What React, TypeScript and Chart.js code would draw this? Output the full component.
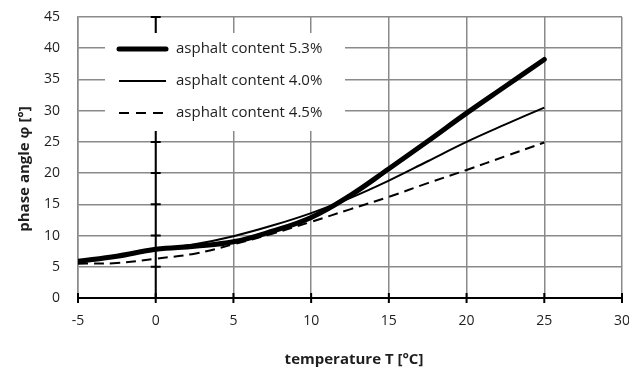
import React, { useEffect, useRef } from "react";
import { Chart, registerables } from "chart.js";

Chart.register(...registerables);

// Temperature samples [°C]
const temperatures = [-5, -2.5, 0, 2.5, 5, 7.5, 10, 12.5, 15, 17.5, 20, 22.5, 25];

// Phase angle φ [°] for each asphalt content
const phase53 = [5.9, 6.7, 7.8, 8.3, 9.0, 10.7, 12.9, 16.4, 20.7, 25.1, 29.6, 33.9, 38.2];
const phase40 = [5.7, 6.6, 7.7, 8.6, 9.9, 11.6, 13.6, 16.0, 18.8, 21.9, 25.0, 27.8, 30.5];
const phase45 = [5.5, 5.6, 6.3, 7.1, 8.6, 10.3, 12.2, 14.2, 16.2, 18.4, 20.5, 22.7, 24.9];

const seriesLabels = ["asphalt content 5.3%", "asphalt content 4.0%", "asphalt content 4.5%"];

const xTicks = [-5, 0, 5, 10, 15, 20, 25, 30];
const yTicks = [0, 5, 10, 15, 20, 25, 30, 35, 40, 45];

const FONT = "'Open Sans', Lato, sans-serif";
const TEXT = "#1e1e1e";
const GRID = "#8a8a8a";

const styles = [
  { width: 5, dash: [] as number[] },
  { width: 2, dash: [] as number[] },
  { width: 2, dash: [10, 6] },
];

const axesAndLegend = {
  id: "axesAndLegend",
  beforeDatasetsDraw(chart: any) {
    const { ctx, scales } = chart;
    const xs = scales.x;
    const ys = scales.y;
    const y0 = ys.getPixelForValue(0);
    const x0 = xs.getPixelForValue(0);
    ctx.save();
    ctx.strokeStyle = "#000";
    ctx.lineWidth = 2;
    // horizontal axis at φ = 0 with crossing ticks
    ctx.beginPath();
    ctx.moveTo(xs.left, y0);
    ctx.lineTo(xs.right, y0);
    xTicks.forEach((t) => {
      const px = xs.getPixelForValue(t);
      ctx.moveTo(px, y0 - 5);
      ctx.lineTo(px, y0 + 5);
    });
    ctx.stroke();
    // vertical axis at T = 0 with crossing ticks
    ctx.beginPath();
    ctx.moveTo(x0, ys.top);
    ctx.lineTo(x0, ys.bottom);
    yTicks.forEach((t) => {
      const py = ys.getPixelForValue(t);
      ctx.moveTo(x0 - 5, py);
      ctx.lineTo(x0 + 5, py);
    });
    ctx.stroke();
    ctx.restore();
  },
  afterDatasetsDraw(chart: any) {
    const { ctx } = chart;
    ctx.save();
    // legend panel
    ctx.fillStyle = "#fff";
    ctx.fillRect(105, 33, 240, 98);
    ctx.font = `15px ${FONT}`;
    ctx.textBaseline = "middle";
    ctx.textAlign = "left";
    const rows = [49, 81, 113];
    seriesLabels.forEach((label, i) => {
      const y = rows[i];
      ctx.strokeStyle = "#000";
      ctx.lineWidth = styles[i].width;
      ctx.lineCap = i === 0 ? "round" : "butt";
      ctx.setLineDash(i === 2 ? [10, 7] : []);
      ctx.beginPath();
      ctx.moveTo(119, y);
      ctx.lineTo(166, y);
      ctx.stroke();
      ctx.setLineDash([]);
      ctx.fillStyle = TEXT;
      ctx.fillText(label, 176, y);
    });
    // axis titles
    ctx.font = `bold 15px ${FONT}`;
    ctx.textAlign = "center";
    ctx.textBaseline = "alphabetic";
    ctx.fillStyle = TEXT;
    ctx.fillText("temperature T [°C]", 354, 364);
    ctx.translate(29, 169);
    ctx.rotate(-Math.PI / 2);
    ctx.fillText("phase angle φ [°]", 0, 0);
    ctx.restore();
  },
};

export default function App() {
  const canvasRef = useRef<HTMLCanvasElement | null>(null);

  useEffect(() => {
    document.body.style.margin = "0";
    const canvas = canvasRef.current;
    if (!canvas) return;
    const makeSet = (label: string, values: number[], i: number) => ({
      label,
      data: temperatures.map((t, k) => ({ x: t, y: values[k] })),
      borderColor: "#000",
      backgroundColor: "#000",
      borderWidth: styles[i].width,
      borderDash: styles[i].dash,
      borderCapStyle: i === 0 ? "round" : "butt",
      pointRadius: 0,
      tension: 0.4,
      fill: false,
    });
    const chart = new Chart(canvas, {
      type: "line",
      data: {
        datasets: [
          makeSet(seriesLabels[0], phase53, 0),
          makeSet(seriesLabels[1], phase40, 1),
          makeSet(seriesLabels[2], phase45, 2),
        ] as any,
      },
      options: {
        animation: false,
        responsive: false,
        maintainAspectRatio: false,
        layout: { padding: { left: 0, top: 17, right: 7, bottom: 0 } },
        plugins: { legend: { display: false }, tooltip: { enabled: false } },
        scales: {
          x: {
            type: "linear",
            min: -5,
            max: 30,
            afterBuildTicks: (s: any) => {
              s.ticks = xTicks.map((v) => ({ value: v }));
            },
            ticks: { color: TEXT, font: { family: FONT, size: 14 }, padding: 15, maxRotation: 0 },
            grid: { color: GRID, lineWidth: 1.5, drawTicks: false },
            border: { display: false },
            afterFit: (s: any) => {
              s.height = 71;
              s.paddingLeft = 0;
              s.paddingRight = 0;
            },
          },
          y: {
            type: "linear",
            min: 0,
            max: 45,
            afterBuildTicks: (s: any) => {
              s.ticks = yTicks.map((v) => ({ value: v }));
            },
            ticks: { color: TEXT, font: { family: FONT, size: 14 }, padding: 18 },
            grid: { color: GRID, lineWidth: 1.5, drawTicks: false },
            border: { display: true, color: GRID, width: 1.5 },
            afterFit: (s: any) => {
              s.width = 78;
              s.paddingTop = 0;
              s.paddingBottom = 0;
            },
          },
        },
      } as any,
      plugins: [axesAndLegend],
    });
    return () => chart.destroy();
  }, []);

  return (
    <div style={{ width: 629, height: 369, background: "#fff" }}>
      <canvas ref={canvasRef} width={629} height={369} />
    </div>
  );
}
